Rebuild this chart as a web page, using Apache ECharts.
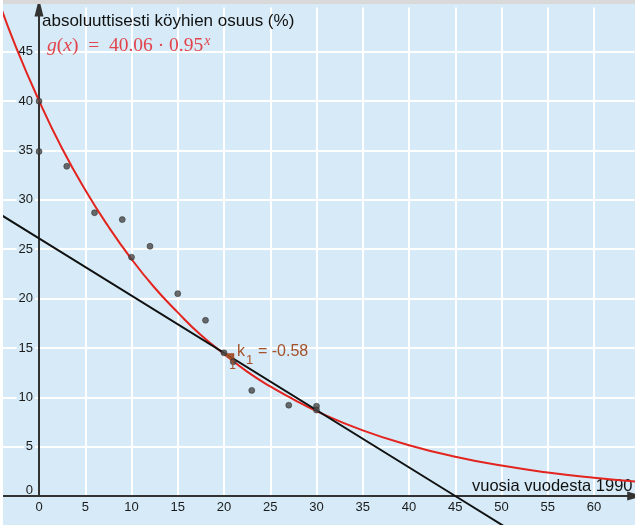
<!DOCTYPE html>
<html><head><meta charset="utf-8">
<script src="https://cdn.jsdelivr.net/npm/echarts@6.0.0/dist/echarts.min.js"></script>
<style>html,body{margin:0;padding:0;background:#fff}#c{width:635px;height:525px}</style>
</head><body><div id="c"></div>
<script>
// red curve g(x)
const curveX = [-4.5, -2.5, 0, 2.5, 5, 7.5, 10, 12.5, 15, 17.5, 20, 22.5, 25, 27.5, 30, 35, 40, 45, 50, 55, 60, 65];
const curveY = [50.5, 45.5, 40.06, 35.2, 31.0, 27.3, 24.0, 21.1, 18.6, 16.3, 14.4, 12.6, 11.1, 9.8, 8.6, 6.65, 5.15, 3.98, 3.08, 2.38, 1.85, 1.43];
// data points
const pointX = [0, 0, 3, 6, 9, 10, 12, 15, 18, 20, 21, 23, 27, 30, 30];
const pointY = [40.0, 34.9, 33.4, 28.7, 28.0, 24.2, 25.3, 20.5, 17.8, 14.5, 13.6, 10.7, 9.2, 9.1, 8.7];
// black secant line
const secantX = [-5, 0, 45, 55];
const secantY = [29.0, 26.1, 0, -5.8];
// slope triangle
const slopeTriX = [20, 21, 21];
const slopeTriY = [14.36, 14.36, 13.78];
const slopeLabel = 'k';
const slopeSub = '1';
const slopeValue = '= -0.58';
// tick labels
const xTickLabels = ['0','5','10','15','20','25','30','35','40','45','50','55','60'];
const yTickLabels = ['5','10','15','20','25','30','35','40','45'];
const yZeroLabel = '0';
const yTitle = 'absoluuttisesti köyhien osuus (%)';
const xTitle = 'vuosia vuodesta 1990';

const BG = '#d6ebf7';
const GRID_LEFT = -7.25;
const chart = echarts.init(document.getElementById('c'), null, {renderer: 'canvas'});

const option = {
  backgroundColor: BG,
  animation: false,
  grid: {left: GRID_LEFT, top: 7.4, width: 641.95, height: 488.6, containLabel: false, outerBoundsMode: 'none'},
  xAxis: {
    type: 'value', min: -5, max: 64.4, interval: 5,
    axisLine: {show: true, onZero: false, symbol: ['none', 'triangle'], symbolSize: [9, 15],
      lineStyle: {color: '#333', width: 2}},
    axisTick: {show: false},
    splitLine: {show: true, showMaxLine: false, lineStyle: {color: '#ffffff', width: 2}},
    axisLabel: {show: true, margin: 5, fontSize: 13, color: '#1a1a1a', fontFamily: 'Liberation Sans',
      showMaxLabel: false,
      formatter: v => xTickLabels.includes(String(v)) ? String(v) : ''}
  },
  yAxis: {
    type: 'value', min: 0, max: 49.5, interval: 5,
    offset: -46.25,
    axisLine: {show: true, onZero: false, symbol: ['none', 'triangle'], symbolSize: [9, 18],
      lineStyle: {color: '#333', width: 2}},
    axisTick: {show: false},
    splitLine: {show: true, showMaxLine: false, lineStyle: {color: '#ffffff', width: 2}},
    axisLabel: {show: true, margin: 4, fontSize: 13, color: '#1a1a1a', fontFamily: 'Liberation Sans',
      showMaxLabel: false, showMinLabel: true,
      backgroundColor: BG, padding: [0, 2],
      formatter: v => yTickLabels.includes(String(v)) ? String(v) : ''}
  },
  series: [
    {
      type: 'line', data: curveX.map((x, i) => [x, curveY[i]]), smooth: true, showSymbol: false,
      lineStyle: {color: '#e3241f', width: 2}, z: 3, silent: true
    },
    {
      type: 'line', data: secantX.map((x, i) => [x, secantY[i]]), showSymbol: false, clip: false,
      lineStyle: {color: '#111111', width: 2}, z: 4, silent: true
    },
    {
      type: 'custom', z: 5, silent: true,
      data: [[slopeTriX[0], slopeTriY[0], slopeTriX[1], slopeTriY[1], slopeTriX[2], slopeTriY[2]]],
      encode: {x: [0, 2, 4], y: [1, 3, 5]},
      renderItem: (params, api) => {
        const p0 = api.coord([api.value(0), api.value(1)]);
        const p1 = api.coord([api.value(2), api.value(3)]);
        const p2 = api.coord([api.value(4), api.value(5)]);
        return {type: 'polygon', shape: {points: [p0, p1, p2]},
          style: {fill: 'rgba(165,80,42,0.8)', stroke: '#a5502a', lineWidth: 2}};
      }
    },
    {
      type: 'scatter', data: pointX.map((x, i) => [x, pointY[i]]), symbolSize: 6,
      itemStyle: {color: '#474747', borderColor: '#222', borderWidth: 0.6}, z: 6, silent: true
    }
  ]
};
chart.setOption(option);

const origin = chart.convertToPixel({gridIndex: 0}, [0, 0]);
const tri = chart.convertToPixel({gridIndex: 0}, [slopeTriX[0], slopeTriY[0]]);
const triR = chart.convertToPixel({gridIndex: 0}, [slopeTriX[1], slopeTriY[1]]);
const brown = '#a5502a';

chart.setOption({
  yAxis: {offset: GRID_LEFT - origin[0]},
  graphic: [
    {type: 'rect', shape: {x: 0, y: 0, width: 635, height: 4}, style: {fill: '#d9d9d9'}, z: 100, silent: true},
    {type: 'rect', shape: {x: 0, y: 0, width: 3, height: 525}, style: {fill: '#ffffff'}, z: 100, silent: true},
    {type: 'text', x: origin[0] - 6, y: origin[1] - 6, z: 10, silent: true,
      style: {text: yZeroLabel, fontSize: 13, fontFamily: 'Liberation Sans', fill: '#1a1a1a', verticalAlign: 'middle', align: 'right'}},
    {type: 'text', x: 42, y: 21, z: 1, silent: true,
      style: {text: yTitle, fontSize: 17, fontFamily: 'Liberation Sans', fill: '#111', verticalAlign: 'middle', align: 'left'}},
    {type: 'text', x: 472, y: 486, z: 1, silent: true,
      style: {text: xTitle, fontSize: 16.5, fontFamily: 'Liberation Sans', fill: '#111', verticalAlign: 'middle', align: 'left'}},
    {type: 'text', x: 47, y: 45, z: 10, silent: true,
      style: {
        text: '{i|g}{n|(}{i|x}{n|)}{n|  =  }{n|40.06}{n| · }{n|0.95}{s|x}',
        verticalAlign: 'middle', align: 'left',
        rich: {
          i: {fontFamily: 'Liberation Serif', fontStyle: 'italic', fontSize: 19.5, fill: '#e2434b', verticalAlign: 'bottom'},
          n: {fontFamily: 'Liberation Serif', fontSize: 19.5, fill: '#e2434b', verticalAlign: 'bottom'},
          s: {fontFamily: 'Liberation Serif', fontStyle: 'italic', fontSize: 14, fill: '#e2434b', verticalAlign: 'bottom', padding: [0, 0, 8, 1]}
        }
      }},
    {type: 'text', x: tri[0] + 13, y: tri[1] + 5, z: 10, silent: true,
      style: {text: slopeLabel, fontFamily: 'Liberation Sans', fontSize: 16, fill: brown, verticalAlign: 'bottom', align: 'left'}},
    {type: 'text', x: tri[0] + 22, y: tri[1] + 6, z: 10, silent: true,
      style: {text: slopeSub, fontFamily: 'Liberation Sans', fontSize: 13, fill: brown, verticalAlign: 'middle', align: 'left'}},
    {type: 'text', x: tri[0] + 34, y: tri[1] + 5, z: 10, silent: true,
      style: {text: slopeValue, fontFamily: 'Liberation Sans', fontSize: 16, fill: brown, verticalAlign: 'bottom', align: 'left'}},
    {type: 'text', x: (tri[0] + triR[0]) / 2 + 4, y: tri[1] + 11, z: 10, silent: true,
      style: {text: '1', fontFamily: 'Liberation Sans', fontSize: 12, fill: brown, verticalAlign: 'middle', align: 'center'}}
  ]
});
</script>
</body></html>
